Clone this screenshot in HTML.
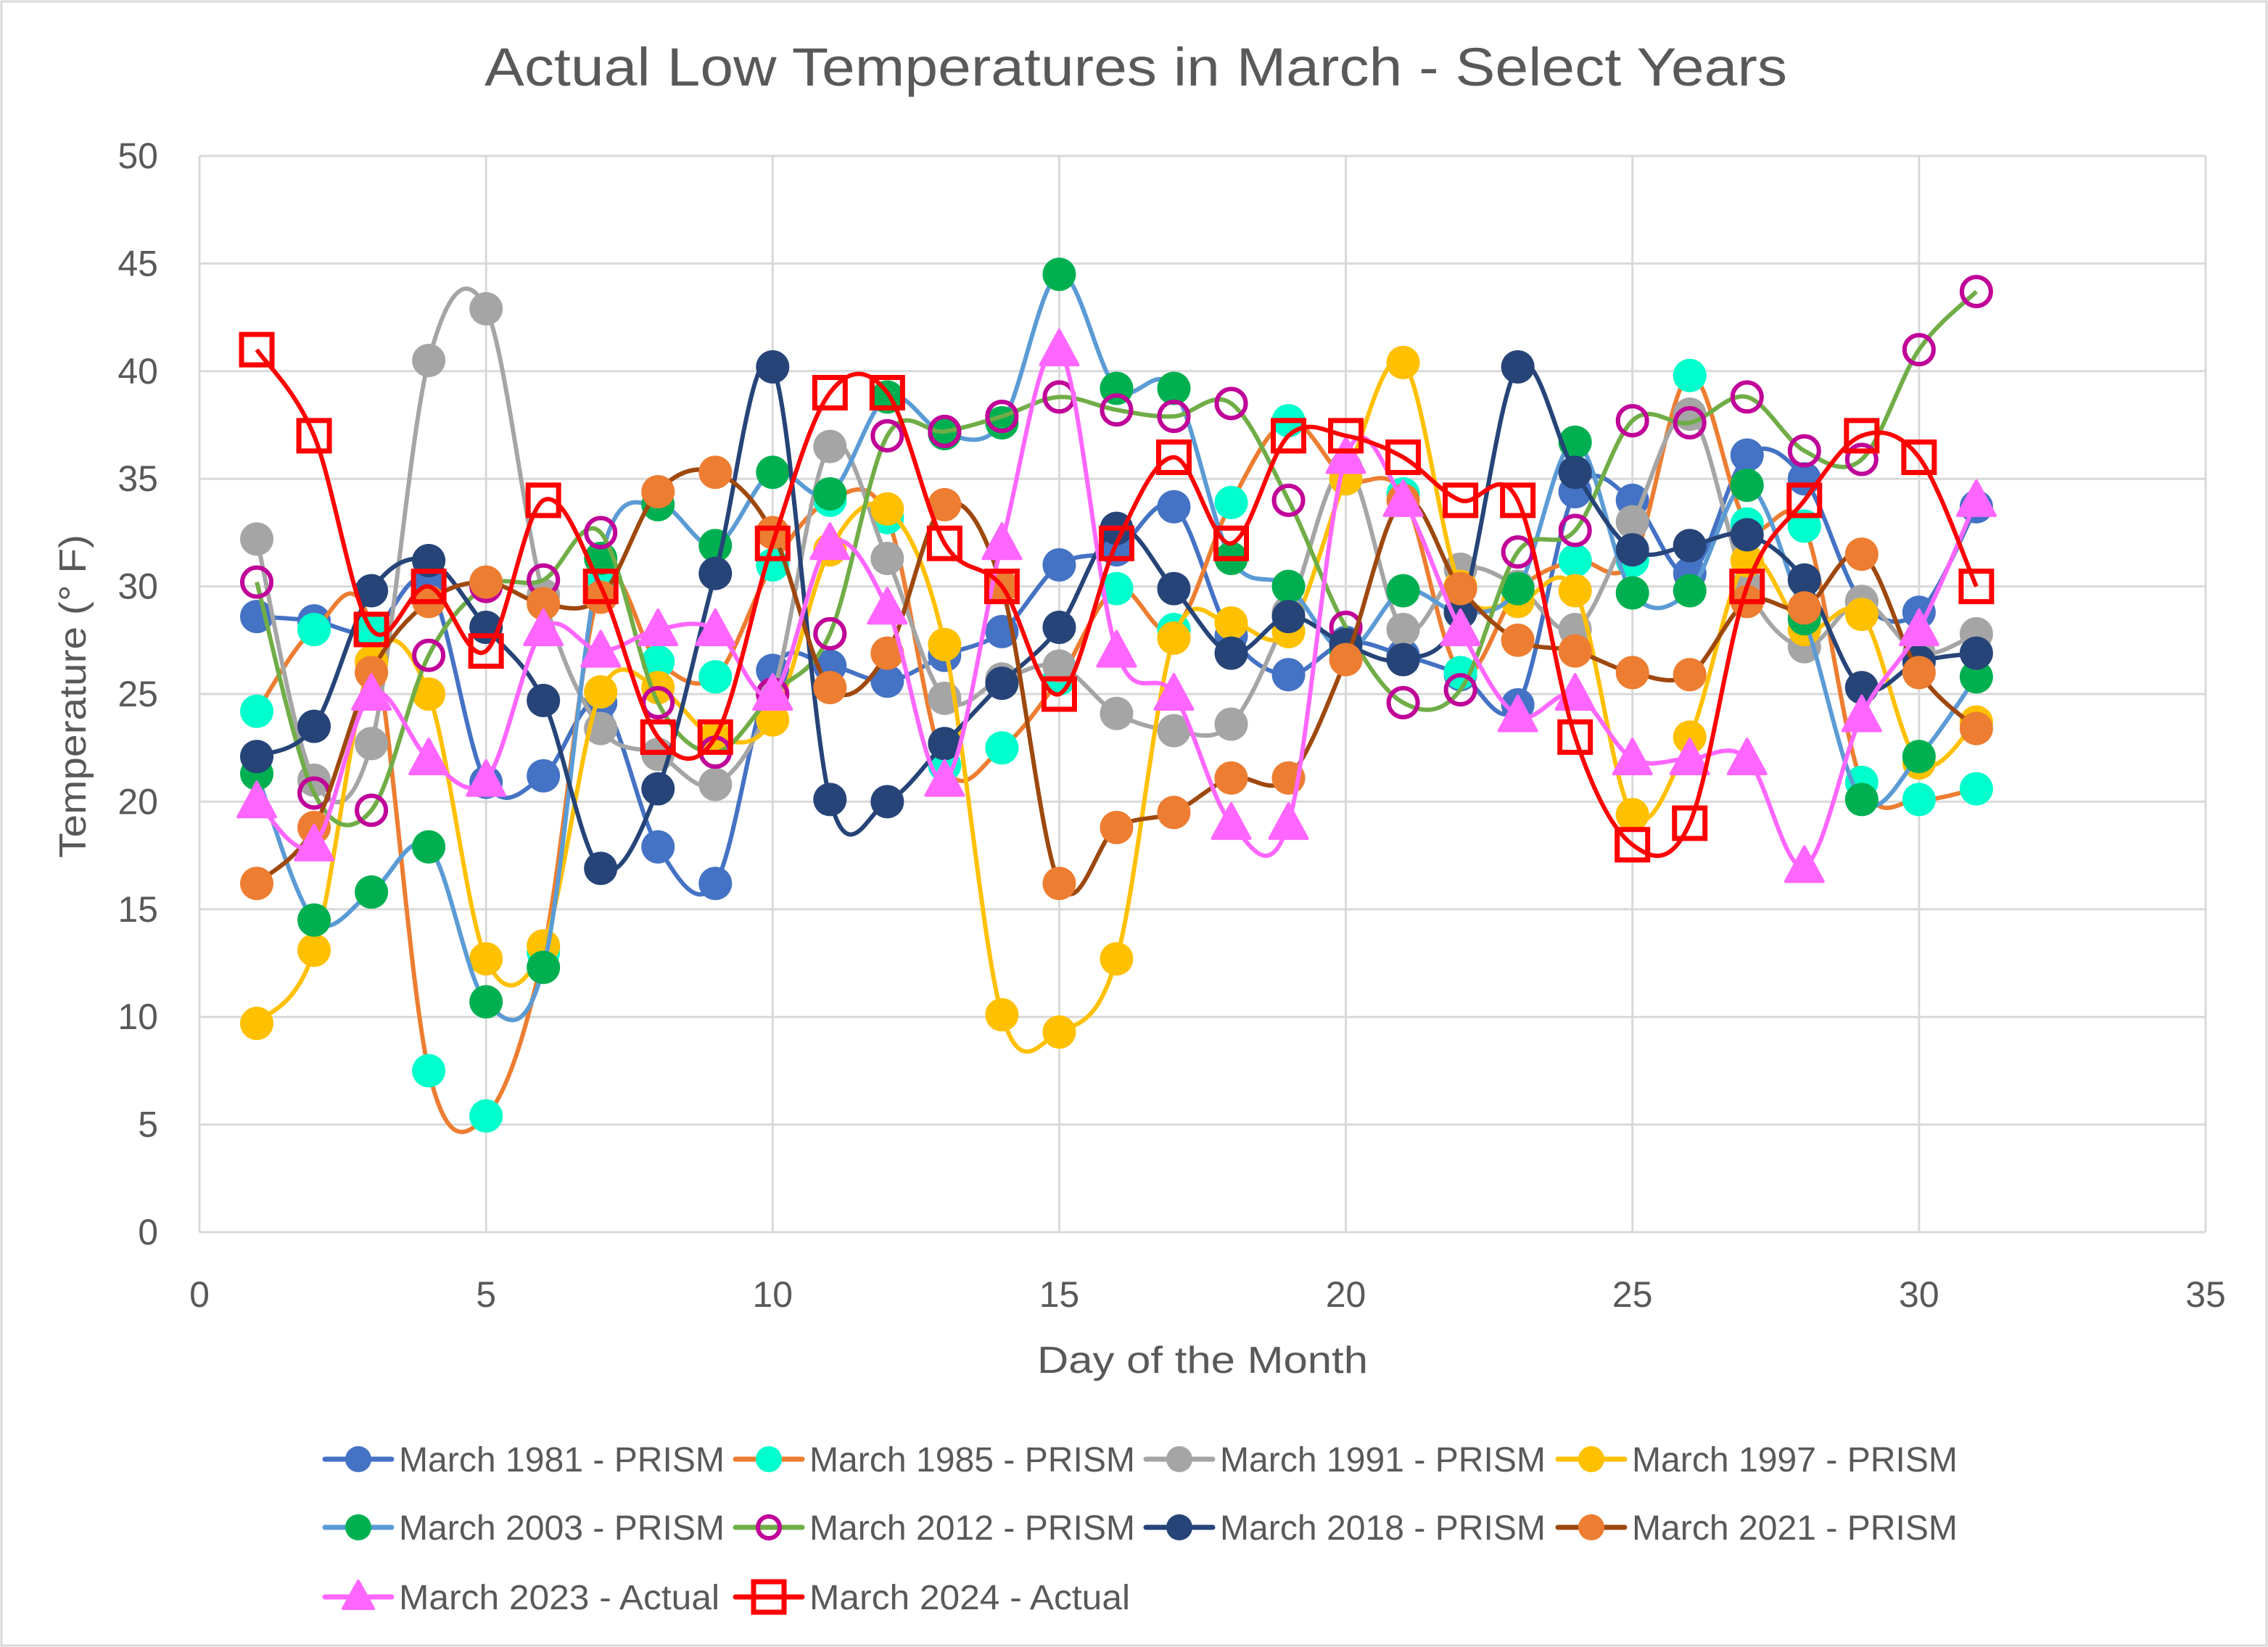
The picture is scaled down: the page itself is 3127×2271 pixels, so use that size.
<!DOCTYPE html>
<html><head><meta charset="utf-8"><style>
html,body{margin:0;padding:0;background:#fff;}
svg{display:block;font-family:"Liberation Sans",sans-serif;}
</style></head><body>
<svg id="chart" width="3127" height="2271" viewBox="0 0 3127 2271" xmlns="http://www.w3.org/2000/svg">
<rect x="2" y="2" width="3123" height="2267" fill="#fff" stroke="#d9d9d9" stroke-width="3"/>
<text x="1566" y="118" font-size="74" fill="#595959" text-anchor="middle" textLength="1796" lengthAdjust="spacingAndGlyphs">Actual Low Temperatures in March - Select Years</text>
<g id="grid"></g>
<g id="series"></g>
<g id="axes"></g>
<text transform="translate(118,960) rotate(-90)" font-size="52" fill="#595959" text-anchor="middle" textLength="446" lengthAdjust="spacingAndGlyphs">Temperature (° F)</text>
<text x="1658" y="1893" font-size="52" fill="#595959" text-anchor="middle" textLength="456" lengthAdjust="spacingAndGlyphs">Day of the Month</text>
<g id="legend"></g>
</svg>
<script>
const days = Array.from({length:31},(_,i)=>i+1);
const xTicks = [0,5,10,15,20,25,30,35];
const yTicks = [0,5,10,15,20,25,30,35,40,45,50];
const seriesNames = ["March 1981 - PRISM","March 1985 - PRISM","March 1991 - PRISM","March 1997 - PRISM","March 2003 - PRISM","March 2012 - PRISM","March 2018 - PRISM","March 2021 - PRISM","March 2023 - Actual","March 2024 - Actual"];
const v1981 = [28.6,28.4,27.9,30.1,20.9,21.2,24.6,17.9,16.2,26.1,26.3,25.6,26.8,27.9,31,31.7,33.7,27.7,25.9,27.4,26.8,25.9,24.5,34.4,34,30.6,36.1,35,29.3,28.8,33.7];
const v1985 = [24.2,28,28,7.5,5.4,13,30,26.5,25.8,31,34,33.2,21.7,22.5,25.7,29.9,28,33.9,37.7,35,34.3,26,29.8,31.2,31.2,39.8,32.9,32.8,20.9,20.1,20.6];
const v1991 = [32.2,21,22.7,40.5,42.9,29.6,23.4,22.2,20.8,25,36.5,31.3,24.8,25.7,26.3,24.1,23.3,23.6,28.8,35.5,28,30.8,30,28,33,38,30,27.2,29.3,26.9,27.8];
const v1997 = [9.7,13.1,26.5,25,12.7,13.3,25.1,25.3,23,23.8,31.7,33.6,27.3,10.1,9.3,12.7,27.6,28.3,27.9,35,40.4,30,29.3,29.8,19.4,23,31.2,28,28.7,21.8,23.7];
const v2003 = [21.3,14.5,15.8,17.9,10.7,12.3,31.3,33.8,31.9,35.3,34.3,38.8,37.1,37.6,44.5,39.2,39.2,31.3,30,27,29.8,28.8,29.9,36.7,29.7,29.8,34.7,28.5,20.1,22.1,25.8];
const v2012 = [30.2,20.4,19.6,26.8,30,30.3,32.5,24.6,22.3,25,27.8,37,37.2,37.9,38.8,38.2,37.9,38.5,34,28.1,24.6,25.2,31.6,32.6,37.7,37.6,38.8,36.3,35.9,41,43.7];
const v2018 = [22.1,23.5,29.8,31.2,28.1,24.7,16.9,20.6,30.6,40.2,20.1,20,22.7,25.5,28.1,32.7,29.9,26.9,28.6,27.3,26.6,28.8,40.2,35.3,31.7,31.9,32.4,30.3,25.3,26.5,26.9];
const v2021 = [16.2,18.8,26,29.3,30.2,29.2,29.5,34.4,35.3,32.5,25.3,26.9,33.8,30,16.2,18.8,19.5,21.1,21.1,26.6,34,29.9,27.5,27,26,25.9,29.3,29,31.5,26,23.4];
const v2023 = [20,18,25,22,21,28,27,28,28,25,32,29,21,32,41,27,25,19,19,36,34,28,24,25,22,22,22,17,24,28,34];
const v2024 = [41,37,28,30,27,34,30,23,23,32,39,39,32,30,25,32,36,32,37,37,36,34,34,23,18,19,30,34,37,36,30];

const NS="http://www.w3.org/2000/svg";
const X0=275,X1=3041,Y0=1699,Y1=215;
const xs=d=>X0+(d-0)/(35-0)*(X1-X0);
const ys=v=>Y0-(v-0)/(50-0)*(Y0-Y1);
function mk(tag,attrs,parent){const e=document.createElementNS(NS,tag);for(const k in attrs)e.setAttribute(k,attrs[k]);parent.appendChild(e);return e;}
const grid=document.getElementById('grid'),axes=document.getElementById('axes'),sg=document.getElementById('series'),lg=document.getElementById('legend');
yTicks.forEach(t=>{
  const l=mk('line',{x1:X0,x2:X1,y1:ys(t),y2:ys(t),stroke:'#d9d9d9','stroke-width':3},grid);
  
  
  const tx=mk('text',{x:218,y:ys(t)+17,'font-size':50,fill:'#595959','text-anchor':'end'},axes);
  tx.textContent=t;
  
  
});
xTicks.forEach(t=>{
  const l=mk('line',{x1:xs(t),x2:xs(t),y1:Y1,y2:Y0,stroke:'#d9d9d9','stroke-width':3},grid);
  
  
  const tx=mk('text',{x:xs(t),y:1802,'font-size':50,fill:'#595959','text-anchor':'middle'},axes);
  tx.textContent=t;
  
  
});
const styles=[
 {line:'#4472C4',fill:'#4472C4',m:'circle'},
 {line:'#ED7D31',fill:'#00FFCC',m:'circle'},
 {line:'#A5A5A5',fill:'#A5A5A5',m:'circle'},
 {line:'#FFC000',fill:'#FFC000',m:'circle'},
 {line:'#5B9BD5',fill:'#00B050',m:'circle'},
 {line:'#70AD47',fill:'none',stroke:'#C00098',m:'circle'},
 {line:'#264478',fill:'#264478',m:'circle'},
 {line:'#9E480E',fill:'#ED7D31',m:'circle'},
 {line:'#FF66FF',fill:'#FF66FF',m:'tri'},
 {line:'#FF0000',fill:'none',stroke:'#FF0000',m:'square'}];
const allVals=[v1981,v1985,v1991,v1997,v2003,v2012,v2018,v2021,v2023,v2024];
function smooth(pts){
  let d=`M${pts[0][0]},${pts[0][1]}`;
  for(let i=0;i<pts.length-1;i++){
    const p0=pts[i-1]||pts[i],p1=pts[i],p2=pts[i+1],p3=pts[i+2]||p2;
    const c1=[p1[0]+(p2[0]-p0[0])/6,p1[1]+(p2[1]-p0[1])/6];
    const c2=[p2[0]-(p3[0]-p1[0])/6,p2[1]-(p3[1]-p1[1])/6];
    d+=` C${c1[0]},${c1[1]} ${c2[0]},${c2[1]} ${p2[0]},${p2[1]}`;
  }
  return d;
}
function marker(st,cx,cy,parent,r){
  let e;
  if(st.m==='circle'){
    if(st.fill==='none') e=mk('circle',{cx,cy,r:r-3,fill:'none',stroke:st.stroke,'stroke-width':6},parent);
    else e=mk('circle',{cx,cy,r,fill:st.fill},parent);
  } else if(st.m==='tri'){
    e=mk('polygon',{points:`${cx},${cy-r-4} ${cx-r-3},${cy+r-2} ${cx+r+3},${cy+r-2}`,fill:st.fill,stroke:st.fill,'stroke-width':4,'stroke-linejoin':'round'},parent);
  } else {
    e=mk('rect',{x:cx-21,y:cy-21,width:42,height:42,fill:'none',stroke:st.stroke,'stroke-width':7},parent);
  }
  return e;
}
allVals.forEach((vals,si)=>{
  const st=styles[si];
  const g=mk('g',{},sg);
  
  
  const pts=days.map((d,i)=>[xs(d),ys(vals[i])]);
  const p=mk('path',{d:smooth(pts),fill:'none',stroke:st.line,'stroke-width':6,'stroke-linejoin':'round'},g);
  
  
  pts.forEach(q=>{
    const m=marker(st,q[0],q[1],g,23);
    
    
  });
});
const legCols=[444,1010,1576,2144];
const legRows=[2012,2106,2202];
seriesNames.forEach((n,i)=>{
  const st=styles[i];
  const lx=legCols[i%4],ly=legRows[Math.floor(i/4)];
  const g=mk('g',{},lg);
  
  
  mk('line',{x1:lx+4,x2:lx+96,y1:ly,y2:ly,stroke:st.line,'stroke-width':7,'stroke-linecap':'round'},g);
  marker(st,lx+50,ly,g,18);
  const t=mk('text',{x:lx+106,y:ly+17,'font-size':48,fill:'#595959',textLength:n.includes('Actual')?442:449,lengthAdjust:'spacingAndGlyphs'},g);
  t.textContent=n;
});
</script>
</body></html>
